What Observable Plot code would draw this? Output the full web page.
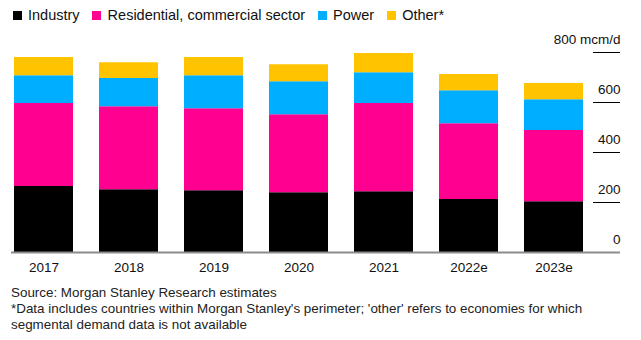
<!DOCTYPE html>
<html>
<head>
<meta charset="utf-8">
<script src="https://cdn.jsdelivr.net/npm/d3@7"></script>
<script src="https://cdn.jsdelivr.net/npm/@observablehq/plot@0.6"></script>
<style>
  html, body { margin: 0; padding: 0; background: #fff; }
  body { width: 641px; height: 340px; overflow: hidden; font-family: "Liberation Sans", Arial, sans-serif; color: #111; }
  #legend { height: 30px; display: flex; align-items: center; padding-left: 12.5px; font-size: 14.5px; }
  #legend .item { display: flex; align-items: center; margin-right: 12.5px; }
  #legend .sw { width: 9px; height: 9px; margin-right: 6.5px; }
  #chart svg { display: block; }
  #caption { font-size: 13.4px; line-height: 16px; padding-left: 11px; color: #222; }
</style>
</head>
<body>
<div id="legend"></div>
<div id="chart"></div>
<div id="caption">Source: Morgan Stanley Research estimates<br>*Data includes countries within Morgan Stanley's perimeter; 'other' refers to economies for which<br>segmental demand data is not available</div>
<script>
const years = ["2017", "2018", "2019", "2020", "2021", "2022e", "2023e"];
const industry = [264, 251, 247, 239, 243, 212, 203];
const residential = [332, 332, 328, 312, 353, 303, 285];
const power = [111, 113, 132, 132, 123, 132, 123];
const other = [73, 63, 73, 68, 77, 65, 65];
const seriesNames = ["Industry", "Residential, commercial sector", "Power", "Other*"];
const seriesColors = ["#000000", "#ff0090", "#00aeff", "#ffc300"];
const yTicks = [0, 200, 400, 600, 800];

const seriesValues = [industry, residential, power, other];
const data = [];
seriesNames.forEach((name, si) => {
  years.forEach((yr, i) => data.push({year: yr, series: name, value: seriesValues[si][i]}));
});

// legend
const legend = document.getElementById("legend");
seriesNames.forEach((name, i) => {
  const it = document.createElement("div");
  it.className = "item";
  const sw = document.createElement("span");
  sw.className = "sw";
  sw.style.background = seriesColors[i];
  const tx = document.createElement("span");
  tx.textContent = name;
  it.appendChild(sw);
  it.appendChild(tx);
  legend.appendChild(it);
});

const chart = Plot.plot({
  width: 641,
  height: 255,
  marginLeft: 11,
  marginRight: 55,
  marginTop: 22,
  marginBottom: 33,
  style: {fontFamily: "Liberation Sans, Arial, sans-serif", fontSize: "13.5px", color: "#111", background: "#fff"},
  x: {domain: years, paddingInner: 0.3, paddingOuter: 0, label: null},
  y: {domain: [0, 800], label: null},
  color: {domain: seriesNames, range: seriesColors},
  marks: [
    Plot.barY(data, {x: "year", y: "value", fill: "series", order: seriesNames}),
    Plot.ruleY(yTicks.filter(d => d > 0), {stroke: "#000", strokeWidth: 1, insetLeft: 582, insetRight: -34}),
    Plot.ruleY([0], {stroke: "#8c8c8c", strokeWidth: 2, insetRight: -34}),
    Plot.axisX({tickSize: 0, tickPadding: 10, label: null}),
    Plot.axisY({anchor: "right", ticks: yTicks, tickSize: 0, tickPadding: 3, textAnchor: "end", dx: 31, dy: -13,
      tickFormat: d => d === 800 ? "800 mcm/d" : String(d), label: null})
  ]
});
document.getElementById("chart").appendChild(chart);
</script>
</body>
</html>
